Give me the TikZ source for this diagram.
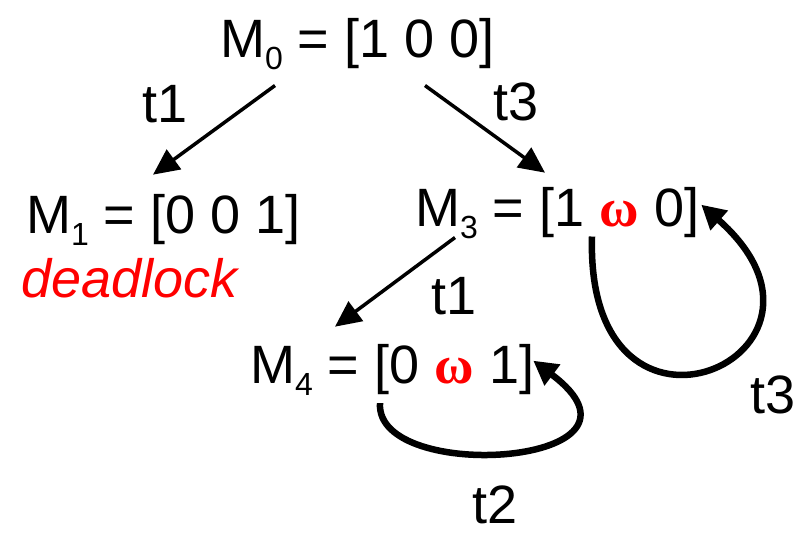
\documentclass[tikz,border=0pt]{standalone}
\usepackage{fontspec}
\setmainfont{Liberation Sans}
\newfontfamily\greekfont{Liberation Serif}
\usetikzlibrary{arrows.meta,calc}
\newcommand{\msub}[1]{\raisebox{-12pt}{\fontsize{32}{32}\selectfont #1}}
\newcommand{\om}{\textcolor{red}{\greekfont\bfseries ω}}

\begin{document}
\begin{tikzpicture}[x=1pt,y=-1pt,
    marking/.style={anchor=base west,inner sep=0pt,
                    font=\fontsize{54}{60}\selectfont},
    trname/.style={anchor=base west,inner sep=0pt,
                   font=\fontsize{54}{60}\selectfont},
    fire/.style={-{Triangle[length=26pt,width=24pt]},line width=3.5pt},
    selfloop/.style={-{Triangle[length=24pt,width=25pt]},line width=6.5pt}
  ]
    \useasboundingbox (0,0) rectangle (797,536);

    \node[marking] (m0) at (220,57) {M\msub{0} = [1 0 0]};
    \node[marking] (m1) at (26,233) {M\msub{1} = [0 0 1]};
    \node[marking,text=red,font=\fontsize{54}{60}\selectfont\itshape]
      (dead) at (21,297) {deadlock};
    \node[marking] (m3) at (415,226) {M\msub{3} = [1 \om{} 0]};
    \node[marking] (m4) at (250,383) {M\msub{4} = [0 \om{} 1]};

    \node[trname] (a1) at (142,122) {t1};
    \node[trname] (a3) at (493,120) {t3};
    \node[trname] (b1) at (431,314) {t1};
    \node[trname] (c3) at (750,413) {t3};
    \node[trname] (c2) at (472,523) {t2};

    \draw[fire] ($(m0.south west)+(55,16)$) -- ($(m1.north west)+(127,-19)$);
    \draw[fire] ($(m0.south west)+(205,16)$) -- ($(m3.north west)+(130,-14)$);
    \draw[fire] ($(m3.south west)+(40,-1)$) -- ($(m4.north west)+(85,-17)$);

    \draw[selfloop] ($(m3.south west)+(177,-2)$)
      .. controls +(-7,244) and +(170,150) .. ($(m3.north east)+(2,18)$);
    \draw[selfloop] ($(m4.south west)+(130,8)$)
      .. controls +(-5,82) and +(140,105) .. ($(m4.north east)+(-1,17)$);
  \end{tikzpicture}
\end{document}
